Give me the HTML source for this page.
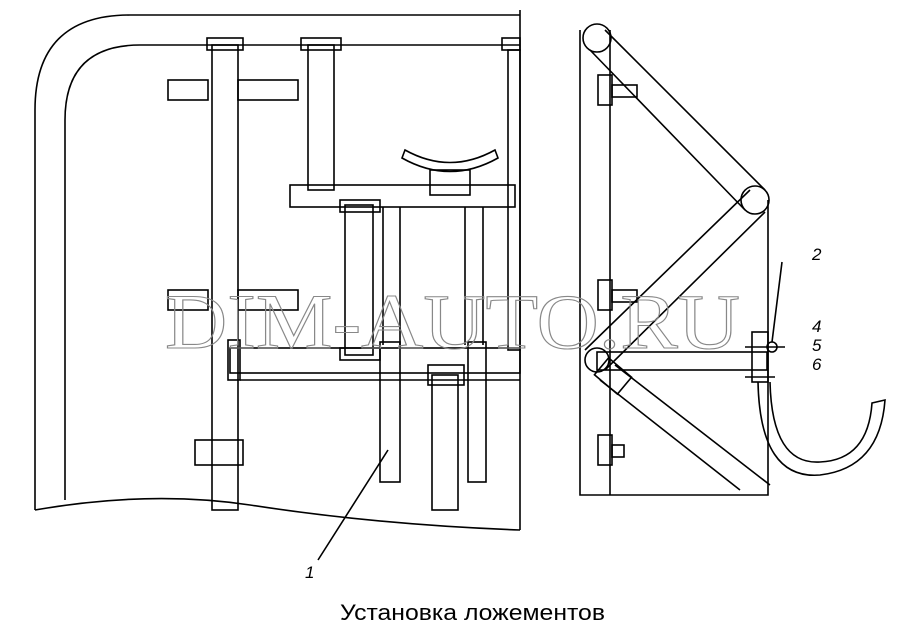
<!DOCTYPE html>
<html><head><meta charset="utf-8"><style>
html,body{margin:0;padding:0;background:#fff;width:910px;height:640px;overflow:hidden}
svg{display:block}
</style></head><body>
<svg width="910" height="640" viewBox="0 0 910 640" xmlns="http://www.w3.org/2000/svg" font-family="Liberation Sans, sans-serif">
<g fill="none" stroke="#000" stroke-width="1.6">
<path d="M35 510 L35 110 Q35 15 130 15 L520 15"/>
<path d="M65 500 L65 120 Q65 45 140 45 L520 45"/>
<path d="M520 10 L520 530"/>
<path d="M35 510 Q150 490 250 505 Q380 525 520 530"/>
<rect x="212" y="45" width="26" height="465"/>
<rect x="207" y="38" width="36" height="12"/>
<rect x="195" y="440" width="48" height="25"/>
<rect x="168" y="80" width="40" height="20"/><rect x="238" y="80" width="60" height="20"/>
<rect x="168" y="290" width="40" height="20"/><rect x="238" y="290" width="60" height="20"/>
<rect x="308" y="45" width="26" height="145"/>
<rect x="301" y="38" width="40" height="12"/>
<rect x="502" y="38" width="18" height="12"/>
<rect x="508" y="50" width="12" height="300"/>
<rect x="290" y="185" width="225" height="22"/>
<rect x="430" y="170" width="40" height="25"/>
<path d="M405 150 Q450 175 495 150 L498 158 Q450 185 402 158 Z"/>
<rect x="345" y="205" width="28" height="150"/>
<rect x="340" y="200" width="40" height="12"/>
<rect x="340" y="348" width="40" height="12"/>
<path d="M383 207 L383 345 M400 207 L400 345 M465 207 L465 345 M483 207 L483 345"/>
<rect x="230" y="348" width="290" height="25"/>
<rect x="228" y="340" width="12" height="40"/>
<rect x="380" y="342" width="20" height="140"/><rect x="468" y="342" width="18" height="140"/>
<rect x="432" y="375" width="26" height="135"/>
<rect x="428" y="365" width="36" height="20"/>
<path d="M240 380 L520 380"/>
<path d="M580 30 L580 495 L768 495 L768 200"/>
<path d="M610 30 L610 495"/>
<circle cx="597" cy="38" r="14"/>
<circle cx="755" cy="200" r="14"/>
<circle cx="597" cy="360" r="12"/>
<path d="M605 30 L765 190 M590 50 L745 210"/>
<path d="M585 350 L750 190 M605 370 L765 212"/>
<rect x="597" y="352" width="170" height="18"/>
<path d="M600 380 L740 490 M615 365 L770 485"/>
<rect x="598" y="365" width="30" height="22" transform="rotate(40 613 376)"/>
<rect x="598" y="75" width="14" height="30"/><rect x="612" y="85" width="25" height="12"/>
<rect x="598" y="280" width="14" height="30"/><rect x="612" y="290" width="25" height="12"/>
<rect x="598" y="435" width="14" height="30"/><rect x="612" y="445" width="12" height="12"/>
<rect x="752" y="332" width="16" height="50"/>
<circle cx="772" cy="347" r="5"/>
<path d="M745 347 L785 347 M745 377 L775 377"/>
<path d="M758 382 Q760 480 820 475 Q880 468 885 400 L872 403 Q868 460 820 462 Q772 465 770 382"/>
<path d="M318 560 L388 450 M782 262 L772 342"/>
</g>
<g font-style="italic" font-size="17" fill="#000">
<text x="305" y="578">1</text><text x="812" y="260">2</text>
<text x="812" y="332">4</text><text x="812" y="351">5</text><text x="812" y="370">6</text>
</g>
<text x="165" y="348" font-family="Liberation Serif, serif" font-size="78" fill="none" stroke="#888" stroke-width="1.1" textLength="575" lengthAdjust="spacingAndGlyphs">DIM-AUTO.RU</text>
<text x="340" y="620" font-size="22" fill="#000" textLength="265" lengthAdjust="spacingAndGlyphs">Установка ложементов</text>
</svg>
</body></html>
